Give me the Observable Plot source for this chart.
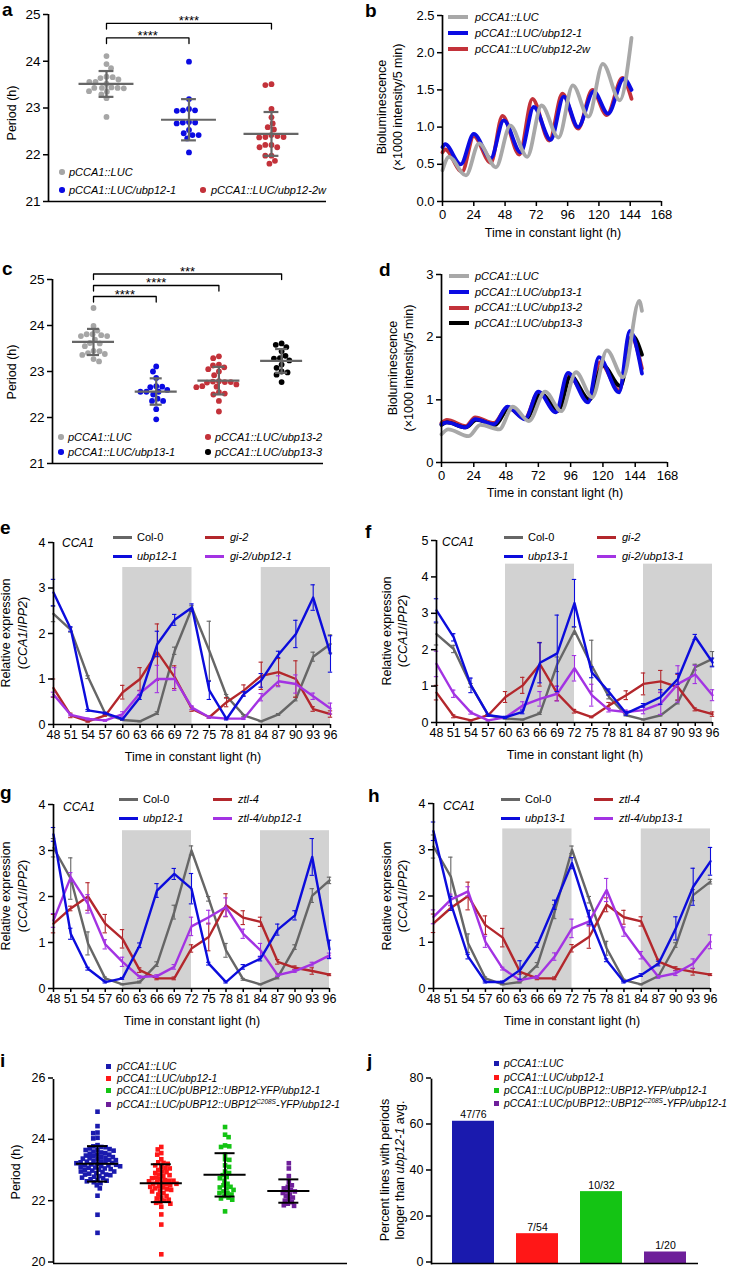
<!DOCTYPE html>
<html><head><meta charset="utf-8">
<script src="https://cdn.jsdelivr.net/npm/d3@7"></script>
<script src="https://cdn.jsdelivr.net/npm/@observablehq/plot@0.6"></script>
<style>
body{margin:0;background:#fff}
#fig{position:relative;width:731px;height:1269px;overflow:hidden;font-family:"Liberation Sans",Arial,Helvetica,sans-serif;color:#000;background:#fff}
.abs{position:absolute;white-space:nowrap}
sup{font-size:6.5px;line-height:0;vertical-align:4px}
</style></head><body><div id="fig"></div><script>
// ================= DATA =================
// Panel a (period, h)
const aGroups = ["pCCA1::LUC", "pCCA1::LUC/ubp12-1", "pCCA1::LUC/ubp12-2w"];
const aColors = ["#a6a6a6", "#0b0be3", "#c3323a"];
const aLUC = [24.11, 23.94, 23.85, 23.66, 23.67, 23.64, 23.61, 23.56, 23.56, 23.52, 23.43, 23.43, 23.42, 23.44, 23.43, 23.36, 23.35, 23.29, 23.21, 22.81];
const aUbp12_1 = [23.99, 23.19, 22.98, 22.95, 22.95, 22.94, 22.69, 22.69, 22.67, 22.53, 22.46, 22.42, 22.42, 22.35, 22.05, 22.7];
const aUbp12_2w = [23.49, 23.51, 22.98, 22.8, 22.59, 22.67, 22.54, 22.42, 22.38, 22.4, 22.37, 22.21, 22.16, 22.16, 22.21, 21.98, 21.98, 21.81, 21.87, 22.38];
const aBrackets = [{from: 0, to: 2, y: 24.81, label: "****"}, {from: 0, to: 1, y: 24.5, label: "****"}];
const aTicks = [21, 22, 23, 24, 25];

// Panel b (bioluminescence, peaks & troughs [h, value])
const bLUC = [[0,0.42],[5,0.6],[18,0.35],[28,0.78],[41,0.46],[52,1.02],[65,0.6],[76,1.29],[89,0.86],[100,1.56],[112,1.14],[123,1.85],[136,1.36],[145,2.2]];
const bUbp12_1 = [[0,0.73],[2,0.77],[14,0.5],[24,0.91],[37,0.58],[47,1.09],[60,0.66],[70,1.27],[83,0.83],[93,1.41],[104,1.0],[116,1.48],[127,1.18],[139,1.65],[145,1.5]];
const bUbp12_2w = [[0,0.66],[2,0.7],[15,0.4],[24,0.88],[37,0.52],[46,1.15],[59,0.63],[69,1.38],[82,0.82],[92,1.45],[104,0.98],[115,1.5],[126,1.16],[138,1.66],[145,1.38]];
const bColors = ["#a8a8a8", "#0b0be3", "#c3323a"];
const bLabels = ["pCCA1::LUC", "pCCA1::LUC/ubp12-1", "pCCA1::LUC/ubp12-2w"];
const bdTicksX = [0, 24, 48, 72, 96, 120, 144, 168];
const bTicksY = [0, 0.5, 1, 1.5, 2, 2.5];

// Panel c
const cGroups = ["pCCA1::LUC", "pCCA1::LUC/ubp13-1", "pCCA1::LUC/ubp13-2", "pCCA1::LUC/ubp13-3"];
const cColors = ["#a6a6a6", "#0b0be3", "#c3323a", "#000000"];
const cLUC = [24.38, 23.99, 23.89, 23.81, 23.77, 23.79, 23.81, 23.69, 23.77, 23.61, 23.4, 23.36, 23.44, 23.45, 23.38, 23.22, 23.27, 23.55, 23.62];
const cUbp13_1 = [23.11, 23.0, 22.86, 22.68, 22.66, 22.67, 22.56, 22.56, 22.56, 22.5, 22.41, 22.36, 22.36, 22.18, 21.96, 22.6];
const cUbp13_2 = [23.29, 23.33, 23.09, 23.13, 23.15, 23.05, 23.0, 22.92, 22.79, 22.77, 22.76, 22.77, 22.72, 22.78, 22.67, 22.66, 22.68, 22.55, 22.5, 22.52, 22.36, 22.13];
const cUbp13_3 = [23.61, 23.53, 23.58, 23.44, 23.28, 23.24, 23.29, 23.34, 23.15, 23.08, 23.0, 22.93, 22.98, 22.77];
const cBrackets = [{from: 0, to: 3, y: 25.12, label: "***"}, {from: 0, to: 2, y: 24.87, label: "****"}, {from: 0, to: 1, y: 24.63, label: "****"}];

// Panel d
const dLUC = [[0,0.45],[5,0.53],[20,0.42],[29,0.6],[43,0.53],[53,0.89],[65,0.66],[77,1.13],[89,0.82],[100,1.44],[112,1.04],[123,1.79],[135,1.36],[147,2.58],[149,2.42]];
const dUbp13_1 = [[0,0.61],[4,0.64],[18,0.56],[25,0.69],[39,0.61],[49,0.89],[62,0.69],[72,1.13],[85,0.8],[94,1.43],[109,0.96],[117,1.68],[132,1.12],[140,2.1],[149,1.42]];
const dUbp13_2 = [[0,0.63],[4,0.68],[18,0.58],[25,0.72],[39,0.63],[49,0.88],[62,0.7],[72,1.12],[86,0.82],[95,1.38],[109,1.0],[118,1.6],[132,1.15],[141,2.0],[149,1.5]];
const dUbp13_3 = [[0,0.6],[4,0.64],[18,0.56],[26,0.68],[40,0.6],[50,0.87],[63,0.7],[74,1.1],[87,0.83],[96,1.38],[110,1.0],[120,1.55],[133,1.22],[142,2.02],[149,1.72]];
const dColors = ["#a8a8a8", "#0b0be3", "#c3323a", "#000000"];
const dLabels = ["pCCA1::LUC", "pCCA1::LUC/ubp13-1", "pCCA1::LUC/ubp13-2", "pCCA1::LUC/ubp13-3"];

// Panels e-h (CCA1 qPCR)
const hours = [48, 51, 54, 57, 60, 63, 66, 69, 72, 75, 78, 81, 84, 87, 90, 93, 96];
const nights = [[60, 72], [84, 96]];
const tcColors = {col: "#666666", ubp: "#0c0cdc", mut: "#b3272c", dbl: "#a333e3"};

const eCol0 = [2.43, 2.08, 1.04, 0.23, 0.10, 0.07, 0.25, 1.62, 2.56, 1.62, 0.62, 0.20, 0.07, 0.22, 0.56, 1.49, 1.77];
const eCol0Err = [0.17, 0.05, 0.03, 0.02, 0.01, 0.01, 0.03, 0.08, 0.05, 0.65, 0.04, 0.02, 0.01, 0.02, 0.04, 0.1, 0.2];
const eUbp = [2.9, 2.1, 0.31, 0.25, 0.12, 0.6, 1.77, 2.3, 2.57, 0.75, 0.12, 0.67, 0.97, 1.54, 1.99, 2.79, 1.55];
const eUbpErr = [0.29, 0.05, 0.02, 0.02, 0.02, 0.05, 0.28, 0.12, 0.08, 0.2, 0.02, 0.05, 0.15, 0.07, 0.3, 0.28, 0.4];
const eGi = [0.8, 0.2, 0.07, 0.2, 0.71, 1.0, 1.59, 1.04, 0.34, 0.16, 0.49, 0.75, 1.07, 1.15, 1.0, 0.34, 0.23];
const eGiErr = [0.2, 0.05, 0.02, 0.02, 0.15, 0.25, 0.62, 0.25, 0.05, 0.02, 0.1, 0.12, 0.3, 0.3, 0.4, 0.05, 0.07];
const eGiUbp = [0.66, 0.21, 0.12, 0.09, 0.23, 0.69, 1.0, 1.0, 0.37, 0.16, 0.13, 0.13, 0.6, 0.95, 0.89, 0.62, 0.35];
const eGiUbpErr = [0.05, 0.02, 0.02, 0.02, 0.05, 0.05, 0.3, 0.25, 0.04, 0.02, 0.02, 0.02, 0.08, 0.12, 0.2, 0.07, 0.12];
const eShadeTop = 3.45;

const fCol0 = [2.43, 2.02, 1.02, 0.2, 0.11, 0.08, 0.25, 1.6, 2.52, 1.56, 0.7, 0.2, 0.08, 0.2, 0.56, 1.52, 1.75];
const fCol0Err = [0.3, 0.1, 0.05, 0.02, 0.01, 0.01, 0.03, 0.2, 0.1, 0.7, 0.05, 0.02, 0.01, 0.02, 0.05, 0.08, 0.2];
const fUbp = [3.08, 2.34, 1.02, 0.2, 0.14, 0.29, 1.64, 1.9, 3.28, 1.38, 0.84, 0.25, 0.47, 0.7, 1.2, 2.35, 1.65];
const fUbpErr = [0.32, 0.1, 0.2, 0.03, 0.03, 0.05, 0.55, 1.05, 0.65, 0.15, 0.08, 0.05, 0.05, 0.2, 0.15, 0.07, 0.12];
const fGi = [0.82, 0.17, 0.06, 0.2, 0.7, 1.02, 1.6, 0.8, 0.31, 0.15, 0.47, 0.75, 1.06, 1.13, 0.97, 0.36, 0.23];
const fGiErr = [0.2, 0.04, 0.02, 0.02, 0.15, 0.22, 0.6, 0.2, 0.05, 0.02, 0.08, 0.12, 0.3, 0.3, 0.35, 0.04, 0.06];
const fGiUbp = [1.61, 0.79, 0.27, 0.06, 0.14, 0.47, 0.65, 0.79, 1.49, 0.75, 0.34, 0.29, 0.34, 0.52, 1.06, 1.32, 0.75];
const fGiUbpErr = [0.35, 0.1, 0.04, 0.02, 0.02, 0.1, 0.2, 0.2, 0.35, 0.3, 0.05, 0.05, 0.1, 0.3, 0.5, 0.25, 0.15];
const fShadeTop = 4.35;

const gCol0 = [3.06, 2.39, 0.98, 0.22, 0.09, 0.14, 0.53, 1.66, 3.0, 1.95, 0.83, 0.2, 0.09, 0.24, 0.9, 2.02, 2.35];
const gCol0Err = [0.2, 0.45, 0.25, 0.03, 0.01, 0.02, 0.05, 0.15, 0.1, 0.05, 0.15, 0.02, 0.01, 0.03, 0.05, 0.15, 0.07];
const gUbp = [3.35, 1.19, 0.43, 0.14, 0.22, 0.94, 2.13, 2.49, 2.17, 0.54, 0.14, 0.47, 0.65, 1.28, 1.59, 2.86, 0.85];
const gUbpErr = [0.15, 0.12, 0.03, 0.02, 0.02, 0.05, 0.15, 0.12, 0.33, 0.03, 0.02, 0.05, 0.05, 0.12, 0.1, 0.4, 0.2];
const gZtl = [1.41, 1.74, 2.0, 1.41, 1.08, 0.4, 0.22, 0.22, 0.87, 1.12, 1.81, 1.54, 1.45, 0.58, 0.45, 0.38, 0.3];
const gZtlErr = [0.2, 0.05, 0.3, 0.2, 0.2, 0.05, 0.03, 0.03, 0.08, 0.3, 0.25, 0.15, 0.1, 0.05, 0.04, 0.07, 0.02];
const gZtlUbp = [1.48, 2.42, 1.84, 0.96, 0.58, 0.25, 0.27, 0.47, 1.35, 1.55, 1.77, 1.19, 0.83, 0.29, 0.38, 0.53, 0.72];
const gZtlUbpErr = [0.15, 0.1, 0.2, 0.1, 0.1, 0.03, 0.03, 0.05, 0.2, 0.15, 0.2, 0.1, 0.15, 0.03, 0.03, 0.04, 0.05];
const gShadeTop = 3.43;

const hCol0 = [3.07, 2.42, 0.98, 0.22, 0.09, 0.14, 0.51, 1.66, 3.0, 1.92, 0.87, 0.18, 0.09, 0.27, 0.94, 2.02, 2.31];
const hCol0Err = [0.25, 0.42, 0.2, 0.03, 0.01, 0.02, 0.05, 0.15, 0.08, 0.07, 0.15, 0.02, 0.01, 0.03, 0.05, 0.12, 0.05];
const hUbp = [3.4, 1.84, 0.69, 0.14, 0.14, 0.4, 0.94, 1.81, 2.71, 1.54, 0.61, 0.14, 0.29, 0.54, 1.3, 2.2, 2.75];
const hUbpErr = [0.2, 0.15, 0.05, 0.02, 0.02, 0.2, 0.05, 0.1, 0.12, 0.15, 0.03, 0.02, 0.03, 0.05, 0.25, 0.4, 0.3];
const hZtl = [1.41, 1.74, 2.0, 1.37, 1.1, 0.36, 0.22, 0.22, 0.87, 1.12, 1.81, 1.54, 1.45, 0.58, 0.43, 0.36, 0.3];
const hZtlErr = [0.2, 0.05, 0.3, 0.2, 0.2, 0.05, 0.03, 0.03, 0.08, 0.25, 0.15, 0.15, 0.1, 0.05, 0.04, 0.07, 0.02];
const hZtlUbp = [1.55, 1.92, 2.1, 1.01, 0.43, 0.18, 0.25, 0.69, 1.3, 1.45, 2.13, 1.23, 0.72, 0.25, 0.33, 0.54, 1.01];
const hZtlUbpErr = [0.15, 0.12, 0.1, 0.12, 0.03, 0.02, 0.03, 0.08, 0.2, 0.1, 0.25, 0.1, 0.08, 0.03, 0.05, 0.1, 0.15];
const hShadeTop = 3.45;

// Panel i
const ijColors = ["#1a1aae", "#ff1717", "#14c414", "#6e1f9a"];
const ijLabels = ["pCCA1::LUC", "pCCA1::LUC/ubp12-1", "pCCA1::LUC/pUBP12::UBP12-YFP/ubp12-1", "pCCA1::LUC/pUBP12::UBP12<sup>C208S</sup>-YFP/ubp12-1"];
const iLUC = [24.95, 24.48, 24.27, 24.25, 24.1, 24.08, 23.86, 23.82, 23.8, 23.79, 23.75, 23.73, 23.7, 23.7, 23.68, 23.65, 23.62, 23.6,
  23.58, 23.55, 23.55, 23.52, 23.5, 23.48, 23.47, 23.45, 23.43, 23.42, 23.4, 23.38, 23.37, 23.35, 23.33, 23.32, 23.3, 23.3, 23.28, 23.27,
  23.25, 23.23, 23.22, 23.2, 23.2, 23.18, 23.17, 23.15, 23.13, 23.12, 23.1, 23.08, 23.06, 23.05, 23.03, 23.0, 23.0, 22.98, 22.95, 22.93,
  22.9, 22.88, 22.85, 22.83, 22.8, 22.78, 22.75, 22.72, 22.7, 22.68, 22.65, 22.62, 22.55, 22.45, 22.21, 21.59, 21.0, 22.9];
const iUbp12_1 = [23.8, 23.72, 23.6, 23.55, 23.4, 23.3, 23.28, 23.25, 23.2, 23.15, 23.12, 23.1, 23.05, 23.0, 22.98, 22.95, 22.9, 22.88,
  22.85, 22.8, 22.78, 22.75, 22.72, 22.7, 22.68, 22.65, 22.62, 22.6, 22.58, 22.55, 22.52, 22.5, 22.48, 22.45, 22.42, 22.4, 22.38, 22.35,
  22.3, 22.25, 22.2, 22.15, 22.12, 22.08, 22.05, 22.0, 21.98, 21.95, 21.85, 21.6, 21.27, 20.3, 22.6, 22.7];
const iUBP12 = [24.45, 24.2, 24.12, 23.85, 23.82, 23.8, 23.55, 23.4, 23.38, 23.2, 23.15, 23.0, 22.95, 22.88, 22.82, 22.78, 22.7, 22.6,
  22.55, 22.5, 22.48, 22.45, 22.4, 22.35, 22.3, 22.3, 22.25, 22.2, 22.15, 22.12, 22.08, 21.7];
const iC208S = [23.27, 23.1, 22.85, 22.65, 22.55, 22.5, 22.45, 22.4, 22.35, 22.35, 22.3, 22.25, 22.2, 22.15, 22.1, 22.05, 22.0, 21.95, 21.9, 21.88];

// Panel j
const jGroups = ["LUC", "ubp12-1", "UBP12-YFP", "UBP12C208S-YFP"];
const jLonger = [47, 7, 10, 1];
const jTotal = [76, 54, 32, 20];

// ================= HELPERS =================
const FONT = '"Liberation Sans", Arial, Helvetica, sans-serif';
const STYLE = {fontFamily: FONT, fontSize: "13px", background: "transparent", overflow: "visible", color: "#000"};
const intFmt = d => String(d);
const fig = document.getElementById("fig");
function addPlot(svg, left, top) {
  svg.style.position = "absolute"; svg.style.left = left + "px"; svg.style.top = top + "px";
  fig.appendChild(svg);
}
function addText(html, left, top, css = {}) {
  const d = document.createElement("div");
  d.className = "abs"; d.innerHTML = html;
  d.style.left = left + "px"; d.style.top = top + "px";
  Object.assign(d.style, css);
  fig.appendChild(d); return d;
}
function panelLabel(ch, x, baseline) { addText(ch, x, baseline - 14, {fontSize: "19px", fontWeight: "bold", lineHeight: "15px"}); }
function yTitle(html, cx, cy, lh = 16) {
  addText(html, cx, cy, {fontSize: "12.5px", lineHeight: lh + "px", textAlign: "center", transform: "translate(-50%,-50%) rotate(-90deg)"});
}
function xTitle(html, cx, cy) { addText(html, cx, cy, {fontSize: "12.5px", lineHeight: "14px", transform: "translate(-50%,-50%)"}); }
function legendItem(type, x, y, color, text, tx, fs = 11) {
  const s = document.createElement("div");
  s.className = "abs";
  let w, h, l;
  if (type === "dot") { w = 5.5; h = 5.5; l = x - w / 2; s.style.borderRadius = "50%"; }
  else if (type === "square") { w = 5; h = 5; l = x - w / 2; }
  else if (type === "thick") { w = 20; h = 4; l = x; }
  else { w = 19; h = 3; l = x; }
  Object.assign(s.style, {left: l + "px", top: (y - h / 2) + "px", width: w + "px", height: h + "px", background: color});
  fig.appendChild(s);
  addText(text, tx, y - 6.5, {fontSize: fs + "px", lineHeight: "13px"});
}
function swarmOffsets(values, ypx, d) {
  const pts = values.map(v => ({v, y: ypx(v), x: 0}));
  const order = pts.slice().sort((a, b) => b.v - a.v);
  const placed = []; let flip = 1;
  for (const p of order) {
    const cands = [0];
    for (const q of placed) {
      const dy = q.y - p.y;
      if (Math.abs(dy) < d) { const dx = Math.sqrt(d * d - dy * dy); cands.push(q.x + dx, q.x - dx); }
    }
    cands.sort((a, b) => (Math.abs(a) - Math.abs(b)) || flip * (b - a));
    for (const c of cands) {
      if (placed.every(q => (q.x - c) ** 2 + (q.y - p.y) ** 2 >= d * d - 0.01)) { p.x = c; break; }
    }
    flip = -flip; placed.push(p);
  }
  return pts.map(p => p.x);
}

// ---------- scatter (a, c, i) ----------
function scatterPanel(o) {
  const {left, top, width, height, mt, mr, mb, ml, yDomain, yTicks, xDomain, groups, colors} = o;
  const ypx = d3.scaleLinear(yDomain, [height - mb, mt]);
  const pxPerUnit = (width - ml - mr) / (xDomain[1] - xDomain[0]);
  const marks = [];
  const stats = groups.map((vals, i) => {
    const m = d3.mean(vals), s = d3.deviation(vals);
    return {i, mean: m, lo: m - s, hi: m + s};
  });
  groups.forEach((vals, i) => {
    const offs = swarmOffsets(vals, ypx, o.collide);
    const pts = vals.map((v, k) => ({x: i + offs[k] / pxPerUnit, v}));
    marks.push(Plot.dot(pts, {x: "x", y: "v", r: o.r, fill: colors[i], stroke: "none", symbol: o.symbol}));
  });
  const sw = o.barWidth;
  marks.push(
    Plot.ruleY(stats, {y: "mean", x1: d => d.i - o.meanHalf, x2: d => d.i + o.meanHalf, stroke: o.barColor, strokeWidth: sw}),
    Plot.ruleX(stats, {x: "i", y1: "lo", y2: "hi", stroke: o.barColor, strokeWidth: sw}),
    Plot.ruleY(stats, {y: "lo", x1: d => d.i - o.capHalf, x2: d => d.i + o.capHalf, stroke: o.barColor, strokeWidth: sw}),
    Plot.ruleY(stats, {y: "hi", x1: d => d.i - o.capHalf, x2: d => d.i + o.capHalf, stroke: o.barColor, strokeWidth: sw})
  );
  if (o.brackets) {
    const drop = 0.12;
    const bp = o.brackets.flatMap((b, k) => [
      {k, x: b.from, y: b.y - drop}, {k, x: b.from, y: b.y}, {k, x: b.to, y: b.y}, {k, x: b.to, y: b.y - drop}]);
    marks.push(
      Plot.line(bp, {x: "x", y: "y", z: "k", stroke: "#000", strokeWidth: 1.3, curve: "linear"}),
      Plot.text(o.brackets, {x: d => (d.from + d.to) / 2, y: "y", text: "label", lineAnchor: "bottom", dy: 2, fontSize: 13})
    );
  }
  marks.push(
    Plot.ruleY([yDomain[0]], {stroke: "#000", strokeWidth: 1.7}),
    Plot.ruleX([xDomain[0]], {stroke: "#000", strokeWidth: 1.7}),
    Plot.axisY({ticks: yTicks, tickSize: 5, tickPadding: 3, fontSize: o.tickFont, strokeWidth: 1.5, label: null, tickFormat: intFmt, dy: o.tickDy || 0})
  );
  addPlot(Plot.plot({width, height, marginTop: mt, marginRight: mr, marginBottom: mb, marginLeft: ml,
    x: {domain: xDomain, axis: null}, y: {domain: yDomain}, style: STYLE, marks}), left, top);
}

// ---------- oscillation (b, d) ----------
function oscPanel(o) {
  const {left, top, width, height, mt, mr, mb, ml, yDomain, yTicks, series, colors} = o;
  const marks = [];
  o.drawOrder.forEach(i => marks.push(Plot.line(series[i], {x: d => d[0], y: d => d[1], stroke: colors[i], strokeWidth: 3.8, curve: "monotone-x"})));
  marks.push(
    Plot.ruleY([yDomain[0]], {stroke: "#000", strokeWidth: 1.7}),
    Plot.ruleX([0], {stroke: "#000", strokeWidth: 1.7}),
    Plot.axisY({ticks: yTicks, tickSize: 5, tickPadding: 3, fontSize: 13, strokeWidth: 1.5, label: null, tickFormat: o.yFormat}),
    Plot.axisX({ticks: bdTicksX, tickSize: 5, tickPadding: 3, fontSize: 13, strokeWidth: 1.5, label: null, tickFormat: intFmt})
  );
  addPlot(Plot.plot({width, height, marginTop: mt, marginRight: mr, marginBottom: mb, marginLeft: ml,
    x: {domain: [0, 168]}, y: {domain: yDomain}, style: STYLE, marks}), left, top);
}

// ---------- time course (e-h) ----------
function timePanel(o) {
  const {left, top, width, height, mt, mr, mb, ml, yMax, yTicks, shadeTop, series} = o;
  const shade = nights.map(([a, b]) => ({a, b, t: shadeTop}));
  const marks = [Plot.rect(shade, {x1: "a", x2: "b", y1: 0, y2: "t", fill: "#d2d2d2"})];
  for (const s of series) {
    const d = hours.map((t, i) => ({t, v: s.v[i], e: s.e[i]}));
    marks.push(
      Plot.ruleX(d, {x: "t", y1: q => q.v - q.e, y2: q => q.v + q.e, stroke: s.color, strokeWidth: 1.1}),
      Plot.ruleY(d, {y: q => q.v + q.e, x1: q => q.t - 0.38, x2: q => q.t + 0.38, stroke: s.color, strokeWidth: 1.1}),
      Plot.ruleY(d, {y: q => q.v - q.e, x1: q => q.t - 0.38, x2: q => q.t + 0.38, stroke: s.color, strokeWidth: 1.1}),
      Plot.line(d, {x: "t", y: "v", stroke: s.color, strokeWidth: 2.4})
    );
  }
  marks.push(
    Plot.ruleY([0], {stroke: "#000", strokeWidth: 1.7}),
    Plot.ruleX([48], {stroke: "#000", strokeWidth: 1.7}),
    Plot.axisY({ticks: yTicks, tickSize: 5, tickPadding: 3, fontSize: 12.5, strokeWidth: 1.5, label: null, tickFormat: intFmt}),
    Plot.axisX({ticks: hours, tickSize: 4, tickPadding: 2, fontSize: 12.5, strokeWidth: 1.5, label: null, tickFormat: intFmt})
  );
  addPlot(Plot.plot({width, height, marginTop: mt, marginRight: mr, marginBottom: mb, marginLeft: ml,
    x: {domain: [48, 96]}, y: {domain: [0, yMax]}, style: STYLE, marks}), left, top);
}

// ================= PANELS =================
// a
scatterPanel({left: 0, top: 0, width: 335, height: 215, mt: 14, mr: 9, mb: 14, ml: 48,
  yDomain: [21, 25], yTicks: aTicks, xDomain: [-0.703, 2.667], groups: [aLUC, aUbp12_1, aUbp12_2w], colors: aColors,
  r: 2.9, collide: 6.2, symbol: "circle", barColor: "#666", barWidth: 2.2, meanHalf: 0.333, capHalf: 0.09,
  brackets: aBrackets, tickFont: 13.5});
// b
oscPanel({left: 365, top: 0, width: 366, height: 250, mt: 15, mr: 70, mb: 49, ml: 77, yDomain: [0, 2.5], yTicks: bTicksY,
  yFormat: d3.format(".1f"), series: [bLUC, bUbp12_1, bUbp12_2w], colors: bColors, drawOrder: [2, 1, 0]});
// c
scatterPanel({left: 0, top: 255, width: 335, height: 215, mt: 24, mr: 12, mb: 7, ml: 52,
  yDomain: [21, 25], yTicks: aTicks, xDomain: [-0.654, 3.668], groups: [cLUC, cUbp13_1, cUbp13_2, cUbp13_3], colors: cColors,
  r: 2.9, collide: 6.0, symbol: "circle", barColor: "#666", barWidth: 2.2, meanHalf: 0.335, capHalf: 0.096,
  brackets: cBrackets, tickFont: 13.5});
// d
oscPanel({left: 365, top: 255, width: 366, height: 250, mt: 19, mr: 64, mb: 43, ml: 76, yDomain: [0, 3], yTicks: [0, 1, 2, 3],
  yFormat: intFmt, series: [dLUC, dUbp13_1, dUbp13_2, dUbp13_3], colors: dColors, drawOrder: [2, 3, 1, 0]});
// e
timePanel({left: 0, top: 530, width: 345, height: 245, mt: 12, mr: 15, mb: 51, ml: 53, yMax: 4, yTicks: [0, 1, 2, 3, 4], shadeTop: eShadeTop,
  series: [{v: eCol0, e: eCol0Err, color: tcColors.col}, {v: eGi, e: eGiErr, color: tcColors.mut},
           {v: eGiUbp, e: eGiUbpErr, color: tcColors.dbl}, {v: eUbp, e: eUbpErr, color: tcColors.ubp}]});
// f
timePanel({left: 365, top: 530, width: 366, height: 245, mt: 10, mr: 19, mb: 53, ml: 71, yMax: 5, yTicks: [0, 1, 2, 3, 4, 5], shadeTop: fShadeTop,
  series: [{v: fCol0, e: fCol0Err, color: tcColors.col}, {v: fGi, e: fGiErr, color: tcColors.mut},
           {v: fGiUbp, e: fGiUbpErr, color: tcColors.dbl}, {v: fUbp, e: fUbpErr, color: tcColors.ubp}]});
// g
timePanel({left: 0, top: 795, width: 345, height: 245, mt: 9, mr: 16, mb: 52, ml: 53, yMax: 4, yTicks: [0, 1, 2, 3, 4], shadeTop: gShadeTop,
  series: [{v: gCol0, e: gCol0Err, color: tcColors.col}, {v: gZtl, e: gZtlErr, color: tcColors.mut},
           {v: gZtlUbp, e: gZtlUbpErr, color: tcColors.dbl}, {v: gUbp, e: gUbpErr, color: tcColors.ubp}]});
// h
timePanel({left: 365, top: 795, width: 366, height: 245, mt: 8, mr: 21, mb: 52, ml: 68, yMax: 4, yTicks: [0, 1, 2, 3, 4], shadeTop: hShadeTop,
  series: [{v: hCol0, e: hCol0Err, color: tcColors.col}, {v: hZtl, e: hZtlErr, color: tcColors.mut},
           {v: hZtlUbp, e: hZtlUbpErr, color: tcColors.dbl}, {v: hUbp, e: hUbpErr, color: tcColors.ubp}]});
// i
scatterPanel({left: 0, top: 1070, width: 360, height: 199, mt: 9, mr: 13, mb: 6, ml: 53,
  yDomain: [20, 26], yTicks: [20, 22, 24, 26], xDomain: [-0.69, 3.92], groups: [iLUC, iUbp12_1, iUBP12, iC208S], colors: ijColors,
  r: 2.6, collide: 4.3, symbol: "square", barColor: "#000", barWidth: 2, meanHalf: 0.33, capHalf: 0.157, tickFont: 12.5, tickDy: -1.5});
// j
{
  const jd = jGroups.map((g, i) => ({g, pct: jLonger[i] / jTotal[i] * 100, label: jLonger[i] + "/" + jTotal[i]}));
  addPlot(Plot.plot({width: 366, height: 199, marginTop: 9, marginRight: 33, marginBottom: 6, marginLeft: 66,
    x: {domain: jGroups, paddingInner: 0.344, paddingOuter: 0.257, align: 0.64, axis: null},
    y: {domain: [0, 80]}, color: {domain: jGroups, range: ijColors}, style: STYLE,
    marks: [
      Plot.barY(jd, {x: "g", y: "pct", fill: "g"}),
      Plot.text(jd, {x: "g", y: "pct", text: "label", lineAnchor: "bottom", dy: -3, fontSize: 10.5}),
      Plot.ruleY([0], {stroke: "#000", strokeWidth: 1.7}),
      Plot.frame({anchor: "left", stroke: "#000", strokeWidth: 1.7}),
      Plot.axisY({ticks: [0, 20, 40, 60, 80], tickSize: 5, tickPadding: 3, fontSize: 12.5, strokeWidth: 1.5, label: null, tickFormat: intFmt, dy: -1.5})
    ]}), 365, 1070);
}

// ================= TEXT, TITLES, LEGENDS =================
panelLabel("a", 2, 16); panelLabel("b", 365, 17); panelLabel("c", 2, 275); panelLabel("d", 379, 276);
panelLabel("e", 0, 534); panelLabel("f", 365, 538); panelLabel("g", 0, 799); panelLabel("h", 368, 802);
panelLabel("i", 0, 1067); panelLabel("j", 367, 1067);

yTitle("Period (h)", 12, 113);
yTitle("Period (h)", 12, 372);
yTitle("Period (h)", 16, 1172);
yTitle("Bioluminescence<br>(×1000 intensity/5 min)", 390, 107);
yTitle("Bioluminescence<br>(×1000 intensity/5 min)", 401, 368);
const relExp = "Relative expression<br>(<i>CCA1</i>/<i>IPP2</i>)";
yTitle(relExp, 15, 633, 17); yTitle(relExp, 395, 631); yTitle(relExp, 15, 896, 17); yTitle(relExp, 395, 896);
yTitle("Percent lines with periods<br>longer than <i>ubp12-1</i> avg.", 393, 1170, 15);

xTitle("Time in constant light (h)", 553, 233);
xTitle("Time in constant light (h)", 555, 493);
xTitle("Time in constant light (h)", 193, 757);
xTitle("Time in constant light (h)", 575, 755);
xTitle("Time in constant light (h)", 192, 1021);
xTitle("Time in constant light (h)", 572, 1021);

// a legend
legendItem("dot", 62, 172, aColors[0], "<i>" + aGroups[0] + "</i>", 69);
legendItem("dot", 62, 190, aColors[1], "<i>" + aGroups[1] + "</i>", 69);
legendItem("dot", 203, 190, aColors[2], "<i>" + aGroups[2] + "</i>", 211);
// b legend
[17, 33, 49].forEach((y, i) => legendItem("thick", 448, y, bColors[i], "<i>" + bLabels[i] + "</i>", 475));
// c legend
legendItem("dot", 61, 437, cColors[0], "<i>" + cGroups[0] + "</i>", 68);
legendItem("dot", 61, 452, cColors[1], "<i>" + cGroups[1] + "</i>", 68);
legendItem("dot", 208, 437, cColors[2], "<i>" + cGroups[2] + "</i>", 215);
legendItem("dot", 208, 452, cColors[3], "<i>" + cGroups[3] + "</i>", 215);
// d legend
[276, 292, 307.5, 323].forEach((y, i) => legendItem("thick", 449, y, dColors[i], "<i>" + dLabels[i] + "</i>", 475));
// e-h legends
function tcLegend(x1, x2, y1, y2, ubp, mut, dbl, cca) {
  legendItem("line", x1, y1, tcColors.col, "Col-0", x1 + 24);
  legendItem("line", x1, y2, tcColors.ubp, "<i>" + ubp + "</i>", x1 + 24);
  legendItem("line", x2, y1, tcColors.mut, "<i>" + mut + "</i>", x2 + 25);
  legendItem("line", x2, y2, tcColors.dbl, "<i>" + dbl + "</i>", x2 + 25);
  addText("<i>CCA1</i>", cca[0], cca[1] - 7, {fontSize: "12px", lineHeight: "14px"});
}
tcLegend(113, 205, 537, 556, "ubp12-1", "gi-2", "gi-2/ubp12-1", [62, 543]);
tcLegend(504, 597, 537, 556, "ubp13-1", "gi-2", "gi-2/ubp13-1", [442, 542]);
tcLegend(119, 213, 799, 818, "ubp12-1", "ztl-4", "ztl-4/ubp12-1", [63, 807]);
tcLegend(501, 594, 799, 818, "ubp13-1", "ztl-4", "ztl-4/ubp13-1", [443, 806]);
// i & j legends
[1066, 1078, 1090, 1104].forEach((y, k) => legendItem("square", 108, y, ijColors[k], "<i>" + ijLabels[k] + "</i>", 117, 10.3));
[1063, 1077, 1090, 1103].forEach((y, k) => legendItem("square", 496, y, ijColors[k], "<i>" + ijLabels[k] + "</i>", 504, 10.3));
</script></body></html>
